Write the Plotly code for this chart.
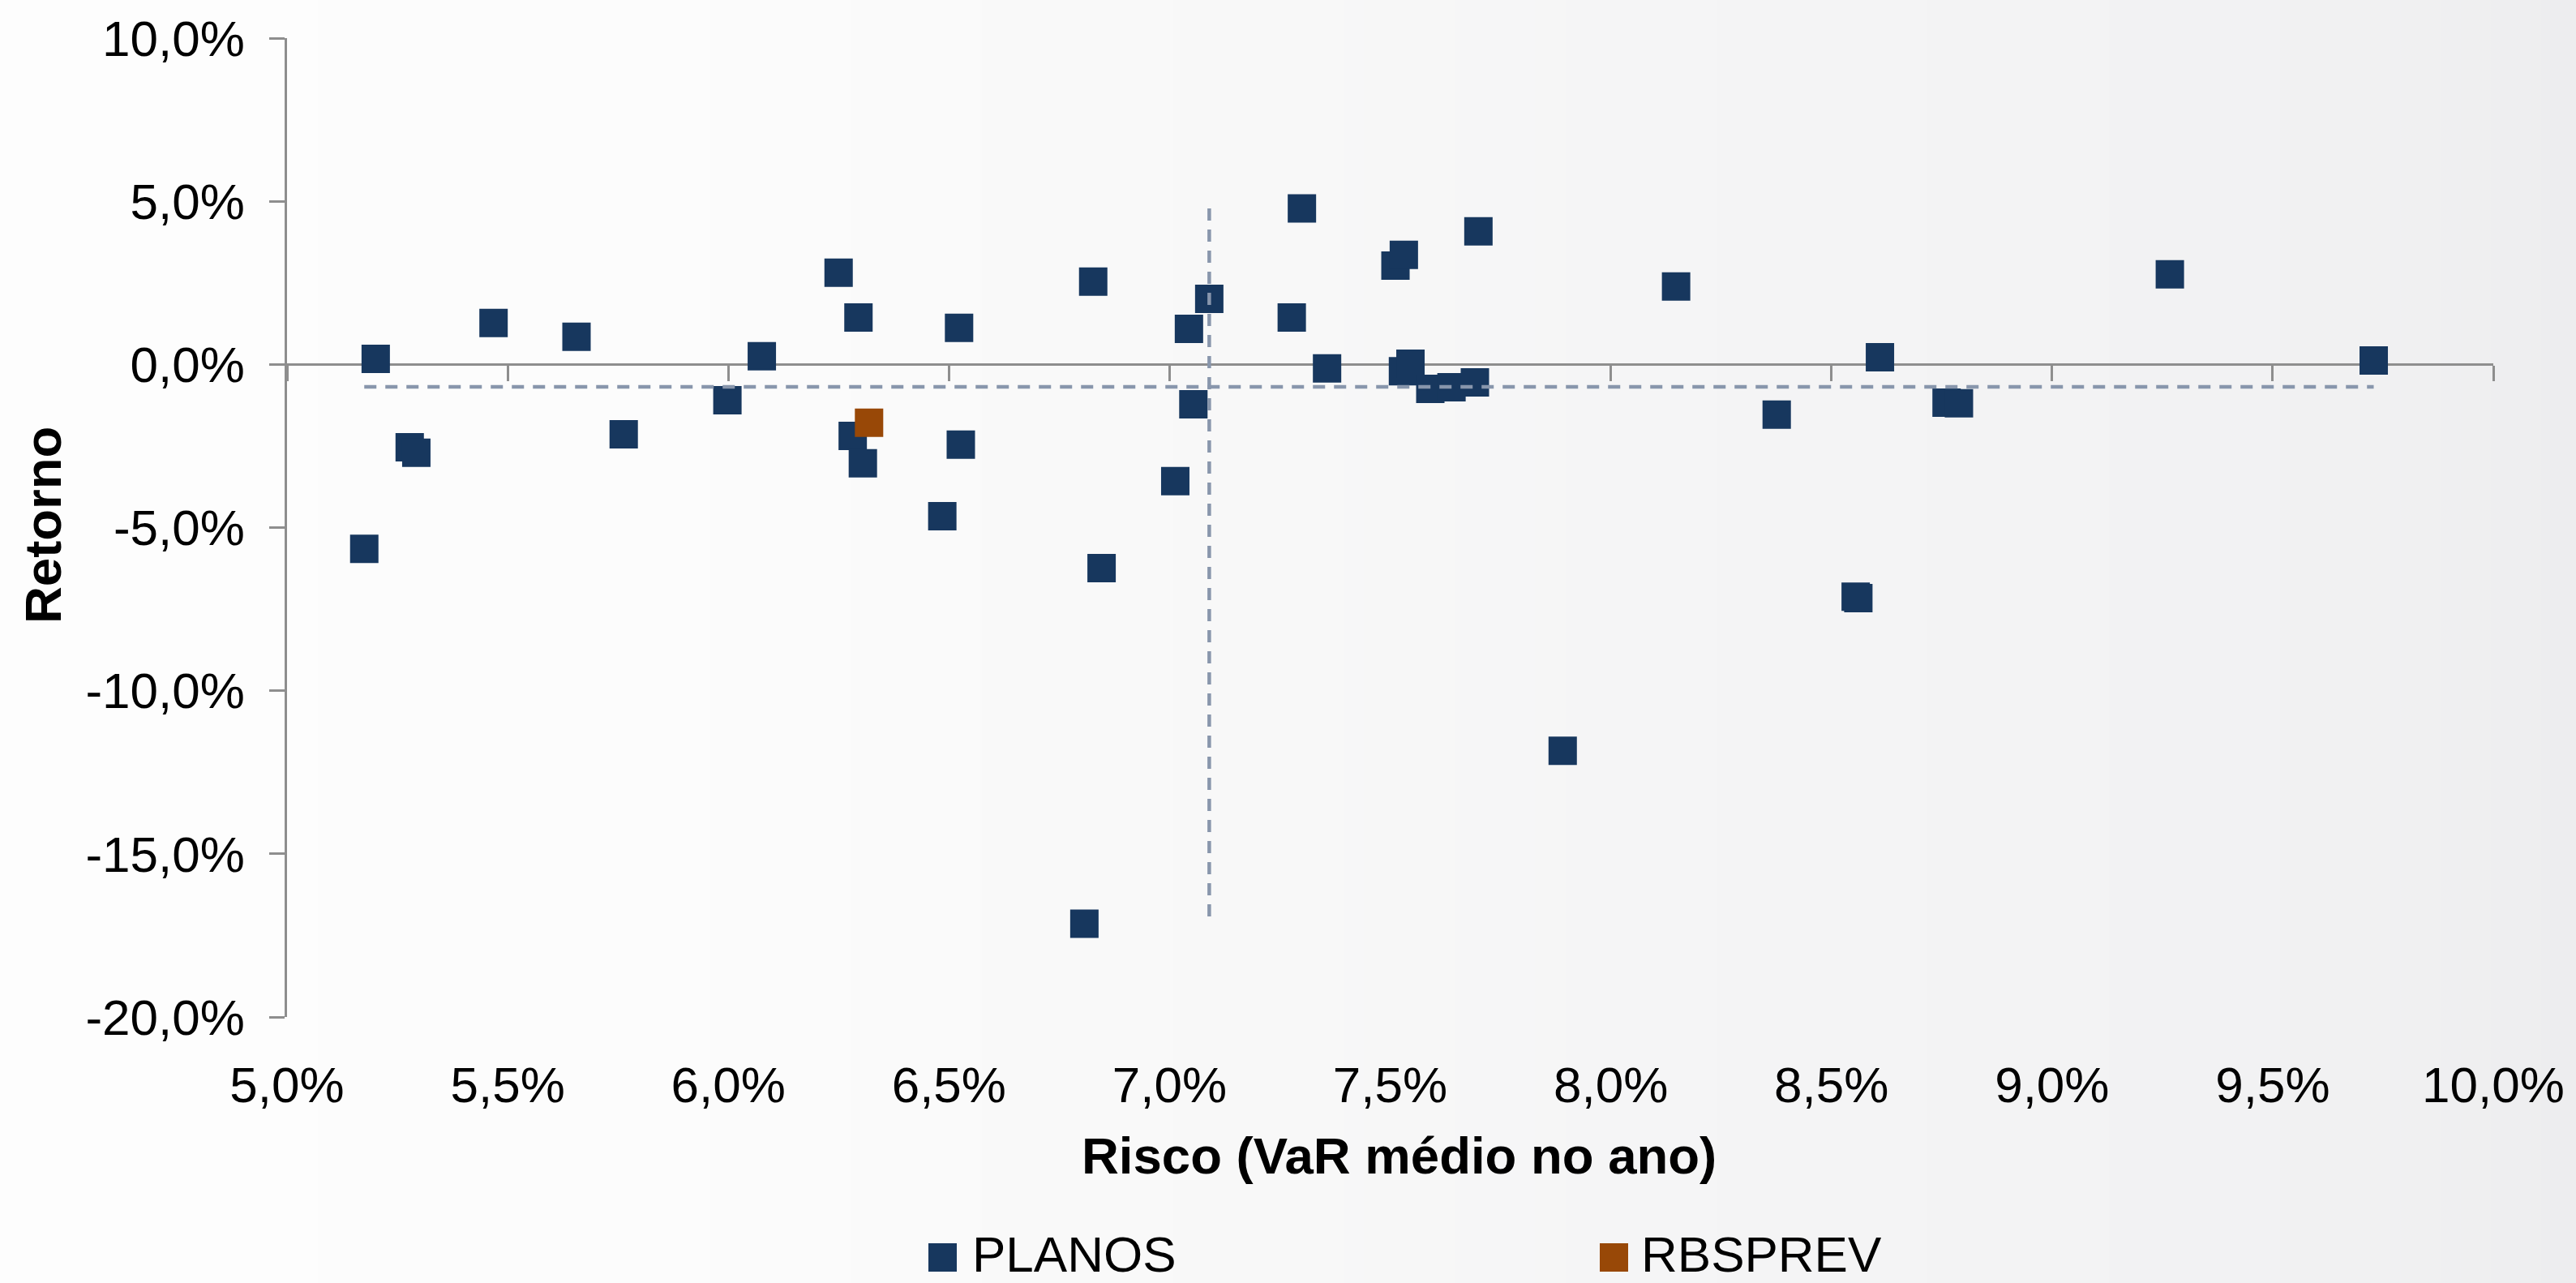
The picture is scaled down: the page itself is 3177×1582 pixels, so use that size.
import base64
import struct
import zlib

import plotly.graph_objects as go

# Risk (average annual VaR, %) and return (%) for each pension plan
risk_planos = [
    5.201, 5.468, 5.656, 5.278, 5.293, 5.175, 5.763, 5.998, 6.076, 6.250,
    6.295, 6.282, 6.305, 6.485, 6.523, 6.527, 6.827, 6.846, 6.807, 7.044,
    7.054, 7.013, 7.090, 7.277, 7.300, 7.357, 7.512, 7.531, 7.529, 7.546,
    7.591, 7.639, 7.692, 7.700, 7.891, 8.148, 8.376, 8.555, 8.561, 8.610,
    8.761, 8.789, 9.267, 9.729,
]
return_planos = [
    0.17, 1.27, 0.85, -2.54, -2.71, -5.65, -2.14, -1.10, 0.25, 2.81,
    1.44, -2.19, -3.03, -4.65, 1.12, -2.46, 2.54, -6.24, -17.14, 1.09,
    -1.22, -3.58, 2.01, 1.44, 4.78, -0.12, 3.03, 3.36, -0.21, 0.02,
    -0.75, -0.70, -0.55, 4.08, -11.84, 2.39, -1.54, -7.12, -7.16, 0.22,
    -1.17, -1.19, 2.76, 0.12,
]
risk_rbsprev = [6.319]
return_rbsprev = [-1.79]

# Reference levels drawn as dashed cross-hairs
avg_risk = 7.09
avg_return = -0.69

series_names = ["PLANOS", "RBSPREV"]
series_colors = ["#17375E", "#984807"]

x_ticks = [5.0, 5.5, 6.0, 6.5, 7.0, 7.5, 8.0, 8.5, 9.0, 9.5, 10.0]
x_tick_labels = ["5,0%", "5,5%", "6,0%", "6,5%", "7,0%", "7,5%",
                 "8,0%", "8,5%", "9,0%", "9,5%", "10,0%"]
y_ticks = [10, 5, 0, -5, -10, -15, -20]
y_tick_labels = ["10,0%", "5,0%", "0,0%", "-5,0%", "-10,0%", "-15,0%", "-20,0%"]

x_title = "Risco (VaR médio no ano)"
y_title = "Retorno"

# Canvas geometry
W, H = 3177, 1582
ML, MR, MT, MB = 354, 102, 47, 328
PW, PH = W - ML - MR, H - MT - MB

FONT = "Liberation Sans, Arial, sans-serif"
AXIS_GRAY = "#8E8E8E"
DASH_COLOR = "#8896AC"


def px_x(X):
    return (X - ML) / PW


def px_y(Y):
    return (MT + PH - Y) / PH


def gradient_png(stops, width=256, height=2):
    """Horizontal light-gray gradient encoded as a PNG data URI."""
    row = bytearray([0])
    for i in range(width):
        f = i / (width - 1)
        for (f0, c0), (f1, c1) in zip(stops[:-1], stops[1:]):
            if f0 <= f <= f1:
                t = (f - f0) / (f1 - f0) if f1 > f0 else 0
                rgb = [round(a + (b - a) * t) for a, b in zip(c0, c1)]
                break
        row += bytes(rgb)
    raw = bytes(row) * height

    def chunk(tag, data):
        return (struct.pack(">I", len(data)) + tag + data
                + struct.pack(">I", zlib.crc32(tag + data) & 0xFFFFFFFF))

    png = (b"\x89PNG\r\n\x1a\n"
           + chunk(b"IHDR", struct.pack(">IIBBBBB", width, height, 8, 2, 0, 0, 0))
           + chunk(b"IDAT", zlib.compress(raw))
           + chunk(b"IEND", b""))
    return "data:image/png;base64," + base64.b64encode(png).decode()


bg_stops = [
    (0.00, (253, 253, 253)),
    (0.25, (252, 252, 252)),
    (0.41, (249, 249, 249)),
    (0.50, (248, 248, 248)),
    (0.63, (245, 245, 246)),
    (0.79, (243, 243, 244)),
    (0.92, (241, 241, 242)),
    (1.00, (237, 237, 239)),
]

fig = go.Figure()

fig.add_trace(go.Scatter(
    x=risk_planos, y=return_planos, mode="markers", name=series_names[0],
    marker=dict(symbol="square", size=35, color=series_colors[0], line=dict(width=0)),
    showlegend=False,
))
fig.add_trace(go.Scatter(
    x=risk_rbsprev, y=return_rbsprev, mode="markers", name=series_names[1],
    marker=dict(symbol="square", size=35, color=series_colors[1], line=dict(width=0)),
    showlegend=False,
))

# Dashed cross-hairs at the reference levels (on the labelled bottom axis)
dash_style = dict(color=DASH_COLOR, width=4.5, dash="15px,11px")
fig.add_trace(go.Scatter(
    x=[min(risk_planos), max(risk_planos)], y=[avg_return, avg_return],
    xaxis="x2", yaxis="y", mode="lines", line=dash_style,
    showlegend=False, hoverinfo="skip",
))
fig.add_trace(go.Scatter(
    x=[avg_risk, avg_risk], y=[max(return_planos), min(return_planos)],
    xaxis="x2", yaxis="y", mode="lines", line=dash_style,
    showlegend=False, hoverinfo="skip",
))

tick_font = dict(family=FONT, size=62, color="#000000")

fig.update_layout(
    width=W, height=H,
    margin=dict(l=ML, r=MR, t=MT, b=MB, pad=0),
    paper_bgcolor="#F8F8F8",
    plot_bgcolor="rgba(0,0,0,0)",
    showlegend=False,
    font=dict(family=FONT, color="#000000"),
    # value axis line crossing at zero, with downward ticks
    xaxis=dict(
        range=[5, 10], anchor="free", position=2 / 3,
        showline=True, linecolor=AXIS_GRAY, linewidth=2.5,
        ticks="outside", ticklen=19, tickwidth=2.5, tickcolor=AXIS_GRAY,
        tickvals=x_ticks, showticklabels=False,
        showgrid=False, zeroline=False, layer="below traces",
    ),
    # tick labels placed low, under the plot area
    xaxis2=dict(
        range=[5, 10], overlaying="x", anchor="y", side="bottom",
        showline=False, ticks="", showgrid=False, zeroline=False,
        tickvals=x_ticks, ticktext=x_tick_labels, tickfont=tick_font,
        ticklabelstandoff=42,
    ),
    yaxis=dict(
        range=[-20, 10], anchor="x",
        showline=True, linecolor=AXIS_GRAY, linewidth=2.5,
        ticks="outside", ticklen=19, tickwidth=2.5, tickcolor=AXIS_GRAY,
        tickvals=y_ticks, ticktext=y_tick_labels, tickfont=tick_font,
        ticklabelstandoff=18,
        showgrid=False, zeroline=False, layer="below traces",
    ),
    images=[dict(
        source=gradient_png(bg_stops), xref="paper", yref="paper",
        x=px_x(0), y=px_y(0), sizex=W / PW, sizey=H / PH,
        xanchor="left", yanchor="top", sizing="stretch", layer="below",
    )],
)

title_font = dict(family=FONT, size=63.5, color="#000000", weight="bold")

annotations = [
    dict(text=x_title, x=px_x(1725), y=px_y(1425), xref="paper", yref="paper",
         xanchor="center", yanchor="middle", showarrow=False, font=title_font),
    dict(text=y_title, x=px_x(53), y=px_y(648), xref="paper", yref="paper",
         xanchor="center", yanchor="middle", textangle=-90, showarrow=False,
         font=title_font),
]

# Legend along the bottom: colour swatch + series name
legend_swatch_x = [1145, 1973]
legend_text_x = [1197, 2022]
shapes = []
for name, color, sx, tx in zip(series_names, series_colors, legend_swatch_x, legend_text_x):
    shapes.append(dict(
        type="rect", xref="paper", yref="paper",
        x0=px_x(sx), x1=px_x(sx + 35), y0=px_y(1533), y1=px_y(1568),
        fillcolor=color, line=dict(width=0),
    ))
    annotations.append(dict(
        text=name, x=px_x(tx), y=px_y(1546), xref="paper", yref="paper",
        xanchor="left", yanchor="middle", showarrow=False,
        font=dict(family=FONT, size=62, color="#000000"),
    ))

fig.update_layout(annotations=annotations, shapes=shapes)

fig.write_html("out.html")
